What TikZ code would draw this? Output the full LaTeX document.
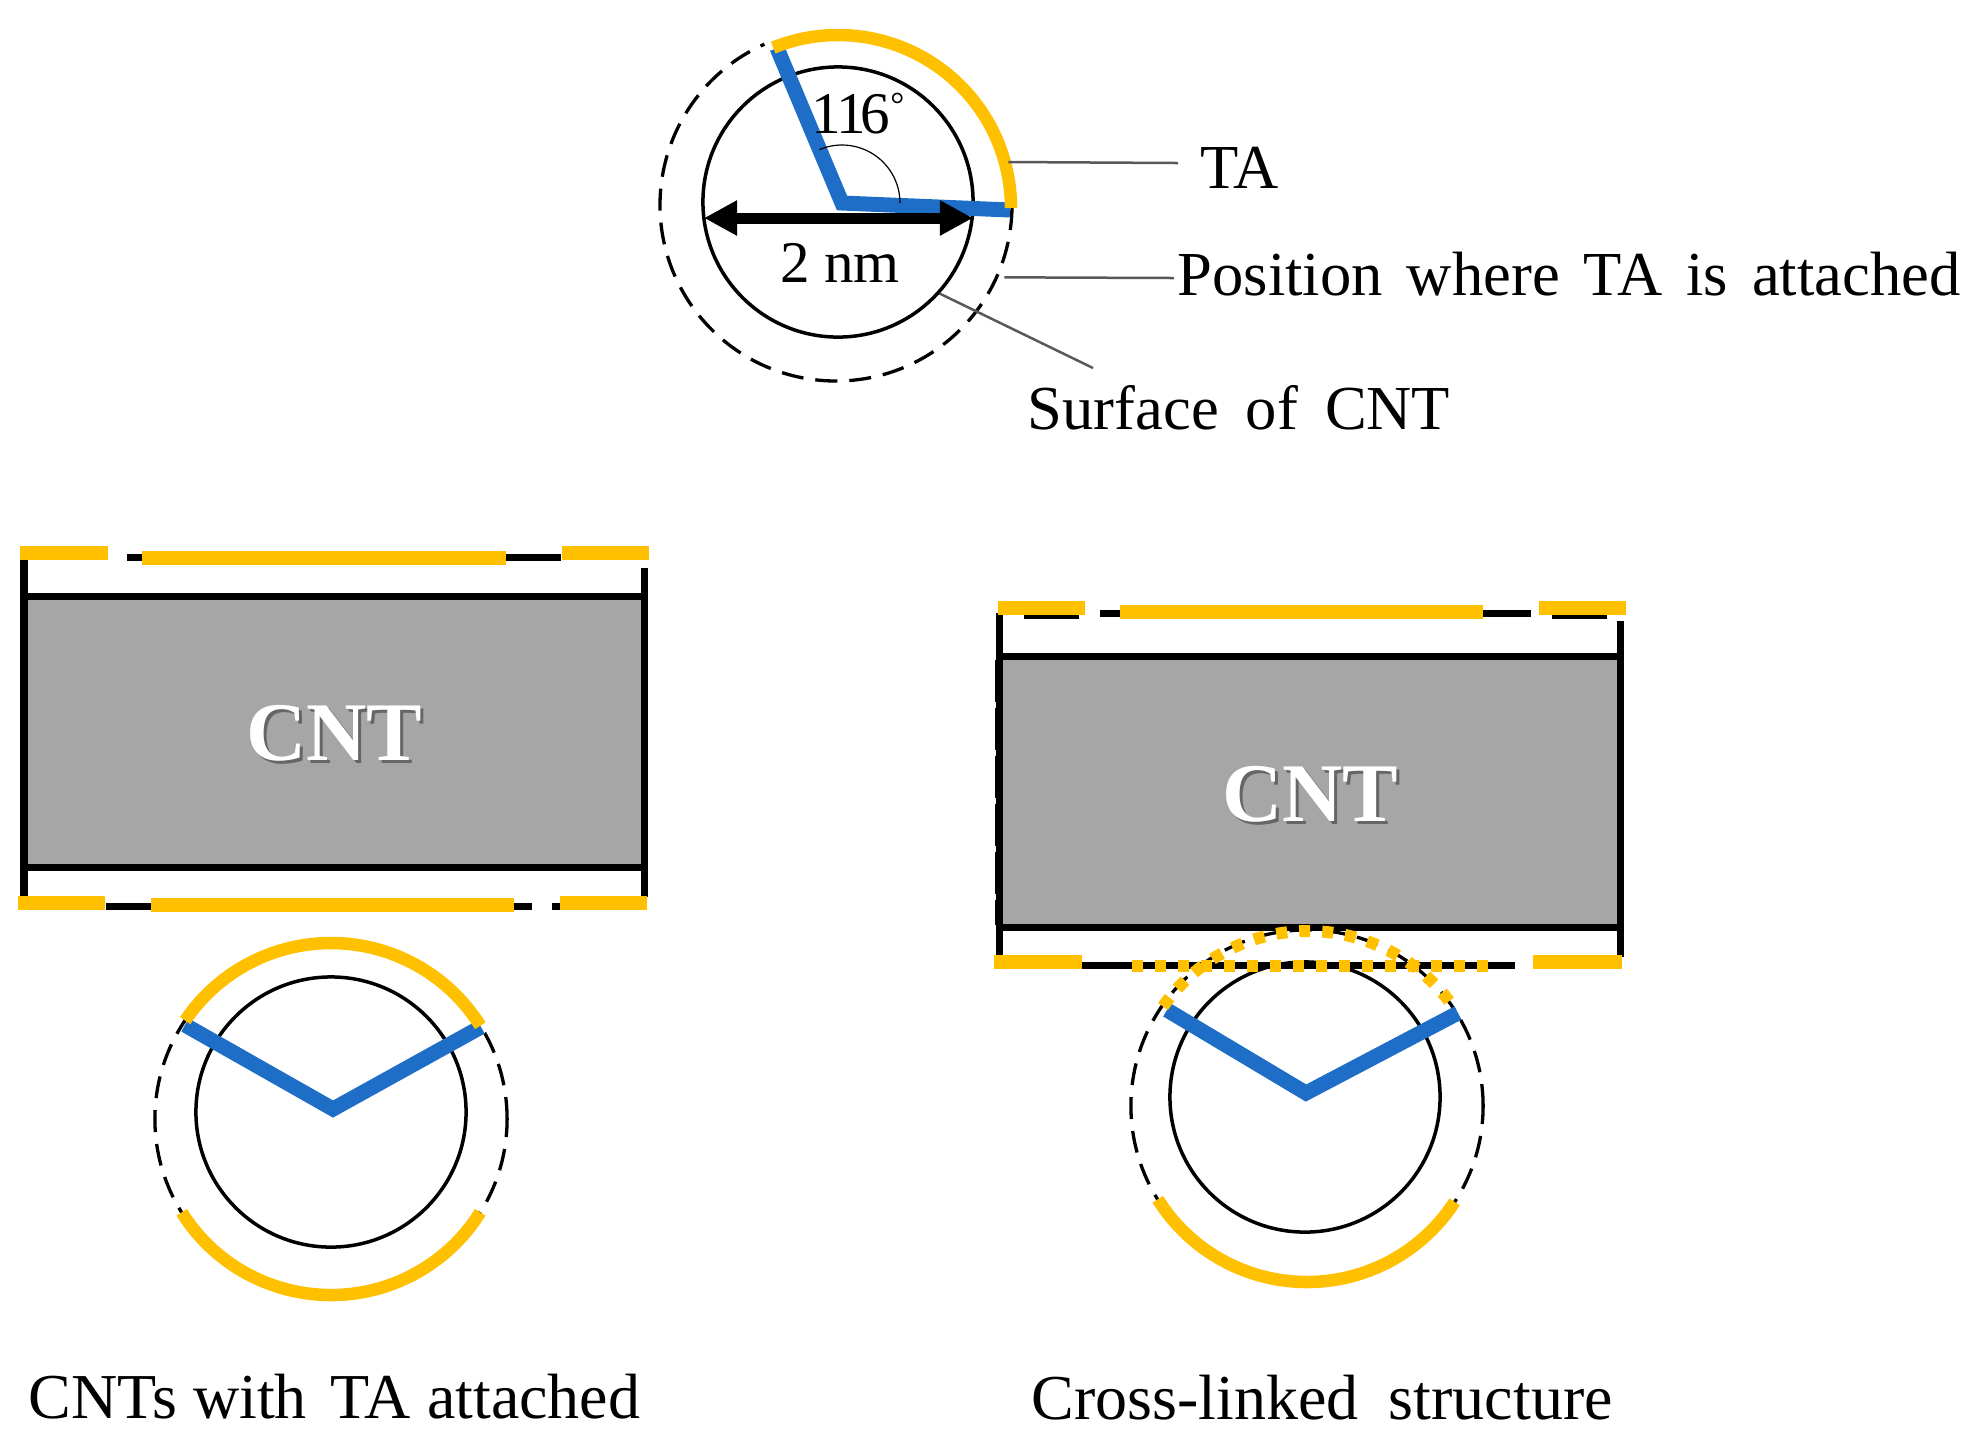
\documentclass[tikz,border=0pt]{standalone}
\usepackage{fontspec}
\setmainfont{Liberation Serif}
\usetikzlibrary{arrows.meta}
\definecolor{taYellow}{HTML}{FFC000}
\definecolor{armBlue}{HTML}{1E6EC8}
\definecolor{tubeGray}{HTML}{A6A6A6}
\tikzset{
  txt/.style={inner sep=0pt,font=\fontsize{16.8}{20}\selectfont,anchor=base west},
  lbl/.style={txt,font=\fontsize{17.8}{21}\selectfont},
  caption/.style={txt,font=\fontsize{18.2}{22}\selectfont},
  cnt/.style={inner sep=0pt,font=\fontsize{23.7}{28}\selectfont\bfseries},
  wall/.style={line width=.07cm},
  rough/.style={line width=.04cm,dash pattern=on .42cm off .06cm},
  tube/.style={draw,line width=.07cm,fill=tubeGray,inner sep=0pt},
  surface/.style={circle,draw,line width=.035cm,minimum size=2.7cm,inner sep=0pt},
  attach/.style={circle,draw,line width=.033cm,minimum size=3.52cm,inner sep=0pt,
    dash pattern=on .22cm off .12cm},
  arm/.style={draw=armBlue,line width=.15cm,miter limit=4},
  ta/.style={draw=taYellow,line width=.125cm},
  tabar/.style={draw=taYellow,line width=.14cm},
  tadots/.style={draw=taYellow,line width=.12cm,dash pattern=on .11cm off .12cm},
  leader/.style={draw=black!65,line width=.025cm}
}
\begin{document}
\begin{tikzpicture}[x=.01cm,y=.01cm,>={Triangle[length=.33cm,width=.33cm]}]
            \useasboundingbox (0,0) rectangle (1976,-1450);

            % cross section on top
            \node[attach,draw=none] (TopOuter) at (836,-205) {};
            \draw[attach] (TopOuter.center) ++(-1:176) arc (-1:-246:176);
            \node[surface] (TopInner) at (838,-202) {};
            \coordinate (TopArm) at (842,-203);
            \coordinate (TopArmA) at (777,-48);
            \coordinate (TopArmB) at (1010,-210);
            \coordinate (TopArc) at (838,-208);
            \draw[arm] (TopArmA) -- (TopArm) -- (TopArmB);
            \draw[ta] (TopArc) ++(112:173) arc (112:0:173);
            \draw[line width=.012cm] (TopArm) ++(0:58) arc (0:113:58);
            \coordinate (DimL) at (704,-218);
            \coordinate (DimR) at (973,-218);
            \draw[<->,line width=.11cm] (DimL) -- (DimR);
            \node[txt] (Angle) at (811,-133) {1\kern-.05cm 1\kern-.05cm 6\raisebox{.17cm}{\fontsize{10}{10}\selectfont °}};
            \node[txt,anchor=base] (Diam) at (840,-282) {2 nm};

            \node[lbl] (TA) at (1178,-188) {\hspace{.22cm}TA};
            \node[lbl] (Pos) at (1177,-295) {Position\hspace{.24cm}where\hspace{.24cm}TA\hspace{.24cm}is\hspace{.24cm}attached};
            \node[lbl] (Surf) at (1027,-429) {Surface\hspace{.27cm}of\hspace{.27cm}CNT};
            \coordinate (TAend) at (1178,-163);
            \coordinate (PosEnd) at (1174,-278);
            \coordinate (SurfEnd) at (1093,-368);
            \draw[leader] (TopOuter.14) -- (TAend);
            \draw[leader,shorten <=.06cm] (TopOuter.-24) -- (PosEnd);
            \draw[leader] (TopInner.-42) -- (SurfEnd);

            % left tube
            \node[tube,minimum width=6.2cm,minimum height=2.7cm] (TubeA) at (334,-732) {};
            \node[cnt,text=black!60,xshift=.03cm,yshift=-.03cm] (CntShadowA) at (334,-733) {CNT};
            \node[cnt,text=white] (CntA) at (334,-733) {CNT};
            \draw[wall] (24,-560) -- (24,-897);
            \draw[wall] (644,-568) -- (644,-897);
            \draw[wall] (127,-557) -- (561,-557);
            \draw[wall] (106,-906) -- (532,-906);
            \draw[wall] (552,-906) -- (562,-906);
            \draw[tabar] (20,-553) -- (108,-553);
            \draw[tabar] (142,-558) -- (506,-558);
            \draw[tabar] (562,-553) -- (649,-553);
            \draw[tabar] (18,-903) -- (105,-903);
            \draw[tabar] (151,-905) -- (514,-905);
            \draw[tabar] (560,-903) -- (647,-903);

            % circle below left tube
            \node[attach] (LeftOuter) at (331,-1119) {};
            \node[surface] (LeftInner) at (331,-1112) {};
            \coordinate (LeftArm) at (333,-1109);
            \coordinate (LeftArmA) at (185,-1025);
            \coordinate (LeftArmB) at (481,-1027);
            \draw[arm] (LeftArmA) -- (LeftArm) -- (LeftArmB);
            \draw[ta] (LeftOuter.center) ++(146:176) arc (146:32:176);
            \draw[ta] (LeftOuter.center) ++(212:176) arc (212:328:176);
            \node[caption] (CapA) at (28,-1418) {CNTs with\hspace{.24cm}TA attached};

            % right tube
            \node[tube,minimum width=6.21cm,minimum height=2.7cm] (TubeB) at (1310,-792) {};
            \node[cnt,text=black!60,xshift=.03cm,yshift=-.03cm] (CntShadowB) at (1310,-794) {CNT};
            \node[cnt,text=white] (CntB) at (1310,-794) {CNT};
            \draw[wall] (999,-613) -- (999,-957);
            \draw[wall] (1620,-621) -- (1620,-957);
            \draw[rough] (997,-660) -- (997,-925);
            \draw[rough] (1622,-660) -- (1622,-925);
            \draw[wall] (1024,-615) -- (1079,-615);
            \draw[wall] (1100,-613) -- (1531,-613);
            \draw[wall] (1552,-615) -- (1607,-615);
            \draw[wall] (1082,-965) -- (1515,-965);
            \draw[tabar] (998,-608) -- (1085,-608);
            \draw[tabar] (1120,-612) -- (1483,-612);
            \draw[tabar] (1539,-608) -- (1626,-608);
            \draw[tabar] (994,-962) -- (1082,-962);
            \draw[tabar] (1533,-962) -- (1622,-962);

            % circle below right tube
            \node[attach] (RightOuter) at (1307,-1106) {};
            \node[surface] (RightInner) at (1305,-1097) {};
            \coordinate (RightArm) at (1306,-1093);
            \coordinate (RightArmA) at (1167,-1010);
            \coordinate (RightArmB) at (1458,-1013);
            \coordinate (RightArc) at (1308,-1108);
            \draw[arm] (RightArmA) -- (RightArm) -- (RightArmB);
            \draw[tadots] (1132,-966) -- (1490,-966);
            \draw[tadots] (RightArc) ++(145:177) arc (145:35:177);
            \draw[ta] (RightOuter.center) ++(212:176) arc (212:327:176);
            \node[caption] (CapB) at (1031,-1419) {Cross-linked\hspace{.3cm}structure};
        \end{tikzpicture}
\end{document}
